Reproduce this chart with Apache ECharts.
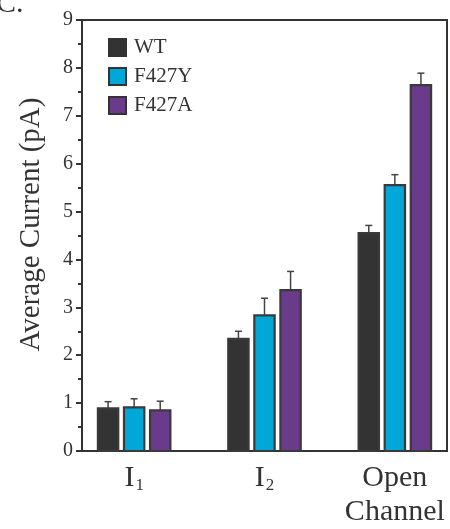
<!DOCTYPE html>
<html>
<head>
<meta charset="utf-8">
<script src="https://cdn.jsdelivr.net/npm/echarts@6/dist/echarts.min.js"></script>
<style>
  html, body { margin: 0; padding: 0; background: #fff; }
  #container { width: 450px; height: 529px; }
</style>
</head>
<body>
<div id="container"></div>
<script>
    // categories on the x axis
    var categories = ['I1', 'I2', 'Open Channel'];
    // series names
    var names = ['WT', 'F427Y', 'F427A'];
    // average current (pA) and upper error of each bar
    var wt = [0.89, 2.34, 4.55];
    var wt_err = [0.14, 0.16, 0.16];
    var f427y = [0.91, 2.83, 5.55];
    var f427y_err = [0.18, 0.36, 0.22];
    var f427a = [0.85, 3.36, 7.64];
    var f427a_err = [0.19, 0.39, 0.25];
    var y_ticks = [0, 1, 2, 3, 4, 5, 6, 7, 8, 9];

    var colors = ['#333333', '#00a7d7', '#6a3a8b'];
    var offsets = [-0.2, 0, 0.2];
    var font = '"Liberation Serif", "DejaVu Serif", serif';

    function Make_Series(k, vals, errs)
    {
        var data = [];
        for (var i = 0; i < vals.length; i++)
            data.push([i, vals[i], vals[i] + errs[i]]);
        return {
            type: 'custom',
            name: names[k],
            data: data,
            itemStyle: { color: colors[k] },
            encode: { x: 0, y: [1, 2] },
            renderItem: function (params, api) {
                var x = api.value(0) + offsets[k];
                var left = api.coord([x - 0.078, 0]);
                var right = api.coord([x + 0.078, 0]);
                var top = api.coord([x, api.value(1)]);
                var err = api.coord([x, api.value(2)]);
                var cx = (left[0] + right[0]) / 2;
                return {
                    type: 'group',
                    children: [
                        {
                            type: 'line',
                            shape: { x1: cx, y1: top[1], x2: cx, y2: err[1] },
                            style: { stroke: '#444', lineWidth: 1.5 }
                        },
                        {
                            type: 'line',
                            shape: { x1: cx - 3.5, y1: err[1], x2: cx + 3.5, y2: err[1] },
                            style: { stroke: '#444', lineWidth: 1.5 }
                        },
                        {
                            type: 'rect',
                            shape: { x: left[0], y: top[1], width: right[0] - left[0], height: left[1] - top[1] },
                            style: { fill: colors[k], stroke: '#3a3a3a', lineWidth: 2.2 }
                        }
                    ]
                };
            }
        };
    }

    var myChart = echarts.init(document.getElementById('container'));
    myChart.setOption({
        animation: false,
        grid: {
            left: 82, right: 3, top: 20, bottom: 73,
            show: true, borderColor: '#333', borderWidth: 2, backgroundColor: 'transparent'
        },
        legend: {
            orient: 'vertical',
            left: 103, top: 32,
            itemWidth: 17, itemHeight: 17,
            itemGap: 8,
            icon: 'rect',
            textStyle: { fontFamily: font, fontSize: 21, color: '#333', padding: [0, 0, 0, 3] },
            data: names.map(function (n, k) {
                return { name: n, itemStyle: { color: colors[k], borderColor: '#333', borderWidth: 2 } };
            })
        },
        xAxis: {
            type: 'value',
            min: -0.4, max: 2.4, interval: 0.2,
            splitLine: { show: false },
            axisTick: { show: false },
            axisLine: { show: true, onZero: false, lineStyle: { color: '#333', width: 2 } },
            axisLabel: {
                showMinLabel: true, showMaxLabel: true,
                margin: 10,
                lineHeight: 34,
                fontFamily: font, fontSize: 30, color: '#333',
                formatter: function (v) {
                    if (Math.abs(v - Math.round(v)) > 1e-6) return '';
                    var i = Math.round(v);
                    if (i == 0) return 'I{sub|1}';
                    if (i == 1) return 'I{sub|2}';
                    if (i == 2) return 'Open\nChannel';
                    return '';
                },
                rich: {
                    sub: { fontFamily: font, fontSize: 17, color: '#333', padding: [16, 0, 0, 1] }
                }
            }
        },
        yAxis: {
            type: 'value',
            min: 0, max: 9, interval: 1,
            name: 'Average Current (pA)',
            nameLocation: 'middle',
            nameGap: 36,
            nameTextStyle: { fontFamily: font, fontSize: 29, color: '#333', padding: [0, 0, 0, 22] },
            splitLine: { show: false },
            axisLine: { show: true, onZero: false, lineStyle: { color: '#333', width: 2 } },
            axisTick: { show: true, inside: false, length: 6, lineStyle: { color: '#333', width: 2 } },
            minorTick: { show: true, splitNumber: 2, length: 4, lineStyle: { color: '#333', width: 2 } },
            axisLabel: {
                margin: 9,
                fontFamily: font, fontSize: 20, color: '#333',
                formatter: function (v) { return y_ticks.indexOf(v) >= 0 ? String(v) : ''; }
            }
        },
        graphic: [
            {
                type: 'text',
                left: -4, top: -11,
                style: { text: 'C.', font: '30px ' + font, fill: '#333' }
            }
        ],
        series: [
            Make_Series(0, wt, wt_err),
            Make_Series(1, f427y, f427y_err),
            Make_Series(2, f427a, f427a_err)
        ]
    });
</script>
</body>
</html>
